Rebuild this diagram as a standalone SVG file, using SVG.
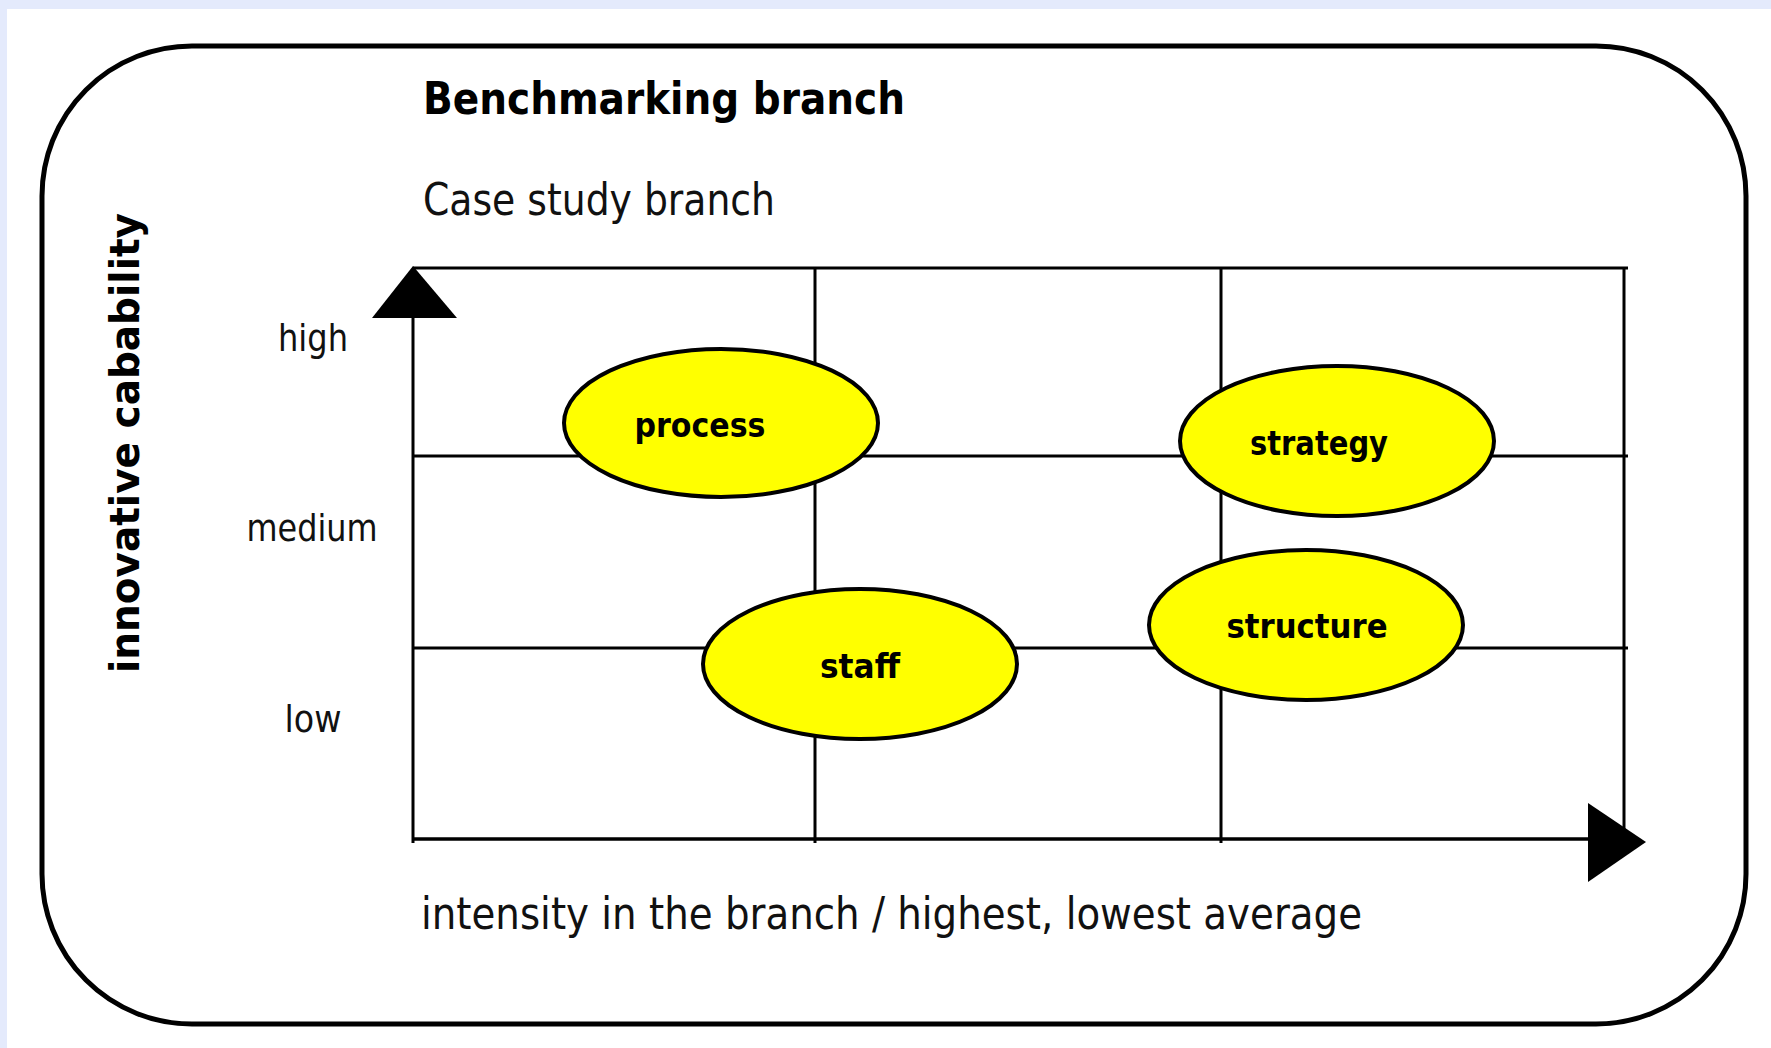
<svg xmlns="http://www.w3.org/2000/svg" width="1771" height="1048" viewBox="0 0 1771 1048">
<style>
.bold{font-family:"DejaVu Sans","Liberation Sans",sans-serif;font-weight:bold;fill:#000}
.reg{font-family:"DejaVu Sans","Liberation Sans",sans-serif;fill:#111}
.grid{stroke:#000;stroke-width:3;fill:none}
.node ellipse{fill:#ffff00;stroke:#000;stroke-width:4}
.node text{font-family:"DejaVu Sans","Liberation Sans",sans-serif;font-weight:bold;font-size:34px;fill:#000;text-anchor:middle}
</style>
<rect x="0" y="0" width="1771" height="1048" fill="#ffffff"/>
<rect x="0" y="0" width="1771" height="9" fill="#e4eafc"/>
<rect x="0" y="0" width="7" height="1048" fill="#e4eafc"/>
<g id="frame">
<rect x="42" y="46" width="1704" height="978" rx="150" ry="150" fill="none" stroke="#000" stroke-width="5"/>
</g>
<g id="titles">
<text class="bold" x="423" y="114" font-size="44" textLength="482" lengthAdjust="spacingAndGlyphs">Benchmarking branch</text>
<text class="reg" x="423" y="215" font-size="44" textLength="352" lengthAdjust="spacingAndGlyphs">Case study branch</text>
<text class="bold" transform="translate(139,673) rotate(-90)" x="0" y="0" font-size="40" textLength="460" lengthAdjust="spacingAndGlyphs">innovative cabability</text>
<text class="reg" x="313" y="351" font-size="38" text-anchor="middle" textLength="70" lengthAdjust="spacingAndGlyphs">high</text>
<text class="reg" x="312" y="541" font-size="38" text-anchor="middle" textLength="131" lengthAdjust="spacingAndGlyphs">medium</text>
<text class="reg" x="313" y="732" font-size="38" text-anchor="middle" textLength="57" lengthAdjust="spacingAndGlyphs">low</text>
<text class="reg" x="421" y="929" font-size="44" textLength="941" lengthAdjust="spacingAndGlyphs">intensity in the branch / highest, lowest average</text>
</g>
<g id="grid" class="grid">
<line x1="413" y1="268" x2="1628" y2="268"/>
<line x1="413" y1="456" x2="1628" y2="456"/>
<line x1="413" y1="648" x2="1628" y2="648"/>
<line x1="815" y1="268" x2="815" y2="843"/>
<line x1="1221" y1="268" x2="1221" y2="843"/>
<line x1="1624" y1="268" x2="1624" y2="839"/>
</g>
<g id="connectors">
<line x1="413" y1="316" x2="413" y2="843" stroke="#000" stroke-width="3"/>
<polygon points="413,266 372,318 457,318" fill="#000"/>
<line x1="413" y1="839" x2="1592" y2="839" stroke="#000" stroke-width="3.5"/>
<polygon points="1588,803 1646,842 1588,882" fill="#000"/>
</g>
<g id="node-process" class="node">
<ellipse cx="721" cy="423" rx="157" ry="74"/>
<text x="700" y="437" textLength="131" lengthAdjust="spacingAndGlyphs">process</text>
</g>
<g id="node-strategy" class="node">
<ellipse cx="1337" cy="441" rx="157" ry="75"/>
<text x="1319" y="455" textLength="138" lengthAdjust="spacingAndGlyphs">strategy</text>
</g>
<g id="node-staff" class="node">
<ellipse cx="860" cy="664" rx="157" ry="75"/>
<text x="860" y="678" textLength="80" lengthAdjust="spacingAndGlyphs">staff</text>
</g>
<g id="node-structure" class="node">
<ellipse cx="1306" cy="625" rx="157" ry="75"/>
<text x="1307" y="638" textLength="161" lengthAdjust="spacingAndGlyphs">structure</text>
</g>
</svg>
